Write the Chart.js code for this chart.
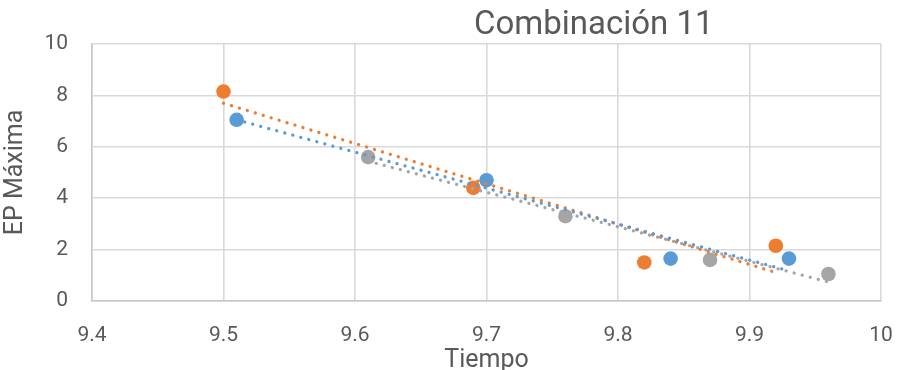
<!DOCTYPE html>
<html>
<head>
<meta charset="utf-8">
<title>Combinación 11</title>
<script src="https://cdn.jsdelivr.net/npm/chart.js@4/dist/chart.umd.min.js"></script>
<style>
  html, body { margin: 0; padding: 0; background: #ffffff; }
  #wrap { width: 898px; height: 370px; position: relative; }
</style>
</head>
<body>
<div id="wrap"><canvas id="chart"></canvas></div>
<script>
// Tiempo / EP Máxima readings for the three runs
const blueX   = [9.51, 9.70, 9.84, 9.93];
const blueY   = [7.05, 4.70, 1.65, 1.65];
const orangeX = [9.50, 9.69, 9.82, 9.92];
const orangeY = [8.15, 4.40, 1.50, 2.15];
const grayX   = [9.61, 9.76, 9.87, 9.96];
const grayY   = [5.60, 3.30, 1.60, 1.05];

const titleText = 'Combinación 11';
const xTitle = 'Tiempo';
const yTitle = 'EP Máxima';

const BLUE = '#5b9bd5', ORANGE = '#ed7d31', GRAY = '#a5a5a5';
const TEXT = '#595959';
const FONT = 'Roboto, "Open Sans", sans-serif';

const toPoints = (xs, ys) => xs.map((x, i) => ({ x: x, y: ys[i] }));

// Least-squares linear trend spanning the series' own x range
function linearTrend(xs, ys) {
  const n = xs.length;
  const mx = xs.reduce((a, b) => a + b, 0) / n;
  const my = ys.reduce((a, b) => a + b, 0) / n;
  let sxy = 0, sxx = 0;
  for (let i = 0; i < n; i++) {
    sxy += (xs[i] - mx) * (ys[i] - my);
    sxx += (xs[i] - mx) * (xs[i] - mx);
  }
  const slope = sxy / sxx;
  const x0 = Math.min(...xs), x1 = Math.max(...xs);
  return [{ x: x0, y: my + slope * (x0 - mx) }, { x: x1, y: my + slope * (x1 - mx) }];
}

function markerSet(label, xs, ys, color, order) {
  return {
    type: 'scatter', label: label, data: toPoints(xs, ys), order: order,
    backgroundColor: color, borderColor: color, borderWidth: 0,
    pointRadius: 7.3, pointHoverRadius: 7.3, showLine: false
  };
}
function trendSet(label, xs, ys, color, order) {
  return {
    type: 'line', label: label, data: linearTrend(xs, ys), order: order,
    borderColor: color, borderWidth: 3.3, borderDash: [0.01, 8.3],
    borderCapStyle: 'round', pointRadius: 0, fill: false, tension: 0
  };
}

// Chart title placed above the plot, right of centre
const titlePlugin = {
  id: 'placedTitle',
  afterDraw(chart) {
    const { ctx, chartArea } = chart;
    ctx.save();
    ctx.font = '33px ' + FONT;
    ctx.fillStyle = TEXT;
    ctx.textAlign = 'center';
    ctx.textBaseline = 'middle';
    ctx.fillText(titleText, chartArea.left + chartArea.width * 0.636, 26);
    ctx.restore();
  }
};

new Chart(document.getElementById('chart'), {
  data: {
    datasets: [
      trendSet('Tendencia 1', blueX, blueY, BLUE, 0),
      trendSet('Tendencia 2', orangeX, orangeY, ORANGE, 0),
      trendSet('Tendencia 3', grayX, grayY, GRAY, 0),
      markerSet('Serie 1', blueX, blueY, BLUE, 1),
      markerSet('Serie 2', orangeX, orangeY, ORANGE, 2),
      markerSet('Serie 3', grayX, grayY, GRAY, 3)
    ]
  },
  options: {
    responsive: true,
    maintainAspectRatio: false,
    animation: false,
    layout: { padding: { top: 44, right: 17, left: 0, bottom: 0 } },
    plugins: { legend: { display: false }, tooltip: { enabled: false }, title: { display: false } },
    scales: {
      x: {
        type: 'linear', min: 9.4, max: 10,
        ticks: {
          stepSize: 0.1, color: TEXT, padding: 22, maxRotation: 0,
          font: { family: FONT, size: 21 },
          callback: v => String(Math.round(v * 10) / 10)
        },
        grid: { color: '#d9d9d9', lineWidth: 1.6, drawTicks: false },
        border: { color: '#c8c8c8', width: 1.6 },
        title: { display: true, text: xTitle, color: TEXT, font: { family: FONT, size: 25 }, padding: { top: 0, bottom: -6 } },
        afterFit: s => { s.height = 69; s.paddingLeft = 0; s.paddingRight = 0; }
      },
      y: {
        min: 0, max: 10,
        ticks: {
          stepSize: 2, color: TEXT, padding: 24,
          font: { family: FONT, size: 21 }
        },
        grid: { color: '#d9d9d9', lineWidth: 1.6, drawTicks: false },
        border: { color: '#c8c8c8', width: 1.6 },
        title: { display: true, text: yTitle, color: TEXT, font: { family: FONT, size: 25 }, padding: { top: 1, bottom: 0 } },
        afterFit: s => { s.width = 92; s.paddingTop = 0; s.paddingBottom = 0; }
      }
    }
  },
  plugins: [titlePlugin]
});
</script>
</body>
</html>
